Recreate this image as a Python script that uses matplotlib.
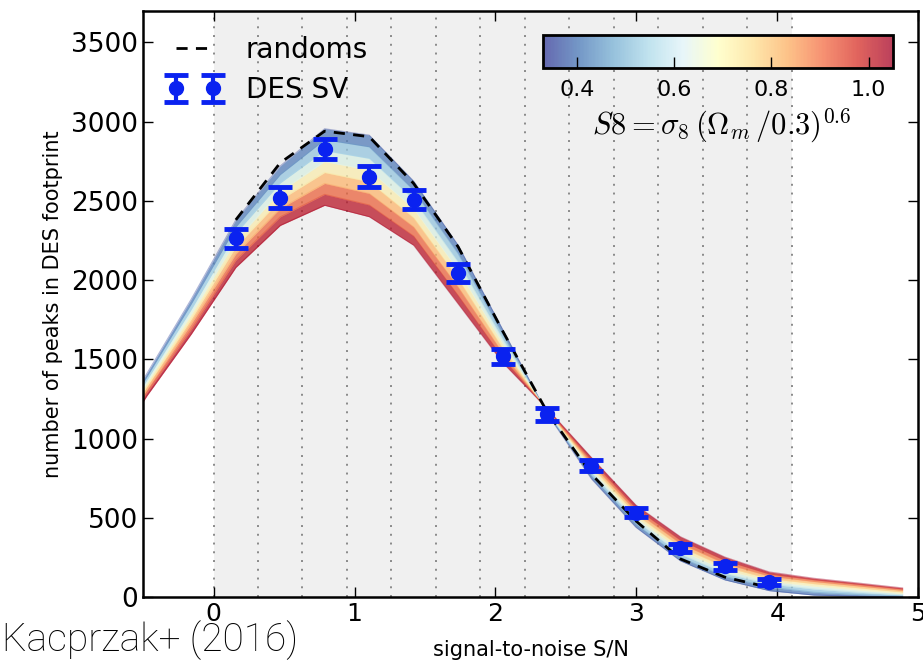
import matplotlib
matplotlib.use("Agg")
import matplotlib.pyplot as plt
from matplotlib import cm, colors

plt.rcParams["mathtext.fontset"] = "cm"
plt.rcParams["font.family"] = ["DejaVu Sans"]

# S/N bin centres for the model curves (extended beyond the data range)
x_model = [-0.789, -0.473, -0.158, 0.158, 0.473, 0.788, 1.104, 1.419, 1.735,
           2.050, 2.365, 2.681, 2.996, 3.312, 3.627, 3.942, 4.258, 4.573, 4.888]

# peak counts of the simulated models, one list per S8 value
s8_values = [0.35, 0.45, 0.55, 0.65, 0.75, 0.85, 0.95, 1.05]
model_counts = [
    [950, 1410, 1880, 2380, 2720, 2955, 2915, 2625, 2220, 1690, 1160, 745, 440, 228, 108, 40, 12, 4, 1],
    [930, 1390, 1850, 2335, 2666, 2886, 2841, 2567, 2167, 1660, 1164, 764, 460, 250, 129, 62, 30, 15, 6],
    [915, 1370, 1815, 2295, 2613, 2817, 2768, 2509, 2114, 1630, 1169, 784, 480, 271, 149, 82, 50, 30, 13],
    [895, 1350, 1785, 2250, 2559, 2748, 2694, 2451, 2061, 1600, 1173, 803, 500, 293, 170, 100, 68, 45, 22],
    [875, 1330, 1755, 2210, 2506, 2679, 2621, 2394, 2009, 1570, 1177, 822, 520, 315, 190, 116, 84, 58, 32],
    [855, 1310, 1725, 2165, 2452, 2610, 2547, 2336, 1956, 1540, 1181, 841, 540, 337, 211, 132, 98, 70, 42],
    [840, 1290, 1690, 2125, 2399, 2541, 2474, 2278, 1903, 1510, 1186, 861, 560, 358, 231, 145, 109, 80, 50],
    [820, 1270, 1660, 2080, 2345, 2472, 2400, 2220, 1850, 1480, 1190, 880, 580, 380, 252, 158, 118, 88, 57],
]

# DES SV measurement and randoms
x_data = [0.158, 0.473, 0.788, 1.104, 1.419, 1.735, 2.050,
          2.365, 2.681, 2.996, 3.312, 3.627, 3.942]
des_sv = [2263, 2520, 2830, 2652, 2507, 2042, 1520, 1152, 828, 532, 310, 195, 95]
des_sv_err = [60, 66, 63, 65, 60, 57, 48, 42, 36, 30, 25, 22, 20]
randoms = [2380, 2740, 2940, 2905, 2610, 2210, 1680, 1170, 775, 480, 240, 125, 60]

bin_edges = [0.0, 0.315, 0.631, 0.946, 1.262, 1.577, 1.892, 2.208,
             2.523, 2.838, 3.154, 3.469, 3.785, 4.1]

cmap = plt.get_cmap("RdYlBu_r")
norm = colors.Normalize(vmin=0.33, vmax=1.05)

fig = plt.figure(figsize=(9.23, 6.70), dpi=100)
ax = fig.add_axes([0.155, 0.109, 0.840, 0.875])

# fitted S/N range and bin edges
ax.axvspan(bin_edges[0], bin_edges[-1], color="#f0f0f0", lw=0, zorder=0)
for e in bin_edges:
    ax.axvline(e, color="#8a8a8a", lw=1.4, ls=(0, (1.0, 3.5)), zorder=1)

# model band coloured by S8: overlapping translucent bands blend the colours
n = len(s8_values)
for k in range(n):
    lo = model_counts[max(k - 1, 0)]
    hi = model_counts[min(k + 1, n - 1)]
    ax.fill_between(x_model, lo, hi, color=cmap(norm(s8_values[k])),
                    alpha=0.5, lw=0, zorder=2)
for s8, counts in zip(s8_values, model_counts):
    ax.plot(x_model, counts, color=cmap(norm(s8)), lw=0.8, alpha=0.4, zorder=2)

ax.plot(x_data, randoms, color="k", lw=2, dashes=(4, 3), zorder=3, label="randoms")
ax.errorbar(x_data, des_sv, yerr=des_sv_err, fmt="o", color="#0a22f0", ms=10,
            elinewidth=3, capsize=8.5, capthick=3.5, zorder=4, label="DES SV")

ax.legend(loc="upper left", frameon=False, numpoints=2, fontsize=20,
          handlelength=1.9, handletextpad=0.9, borderaxespad=0.5, labelspacing=0.45)

ax.set_xlim(-0.5, 5)
ax.set_ylim(0, 3700)
ax.set_xticks(range(6))
ax.set_yticks(range(0, 3501, 500))
ax.tick_params(direction="in", length=7, width=1, top=True, right=True, labelsize=19)
for lab in ax.get_xticklabels():
    lab.set_family(["Liberation Sans Narrow", "DejaVu Sans"])
    lab.set_fontsize(18)
for sp in ax.spines.values():
    sp.set_linewidth(1.8)

ax.set_ylabel("number of peaks in DES footprint", fontsize=15, labelpad=6)
ax.set_xlabel("signal-to-noise S/N", fontsize=15, labelpad=10,
              family=["Liberation Sans Narrow", "DejaVu Sans"])

# colourbar inset
cax = fig.add_axes([543 / 923, 1 - 68 / 670, 350 / 923, 33 / 670])
sm = cm.ScalarMappable(norm=norm, cmap=cmap)
cb = fig.colorbar(sm, cax=cax, orientation="horizontal", alpha=0.75)
cb.set_ticks([0.4, 0.6, 0.8, 1.0])
cax.tick_params(direction="in", length=8, width=1, labelsize=16, pad=9)
cb.outline.set_linewidth(2)
fig.text(722 / 923, 1 - 126 / 670, r"$S8 = \sigma_8\,(\Omega_m\,/0.3)^{0.6}$",
         fontsize=22, ha="center", va="center")

fig.text(0.002, 1 - 640 / 670, "Kacprzak+ (2016)", fontsize=28,
         family=["Roboto", "DejaVu Sans"], weight="light", color="black", va="center")

fig.savefig("out.png", dpi=100)
